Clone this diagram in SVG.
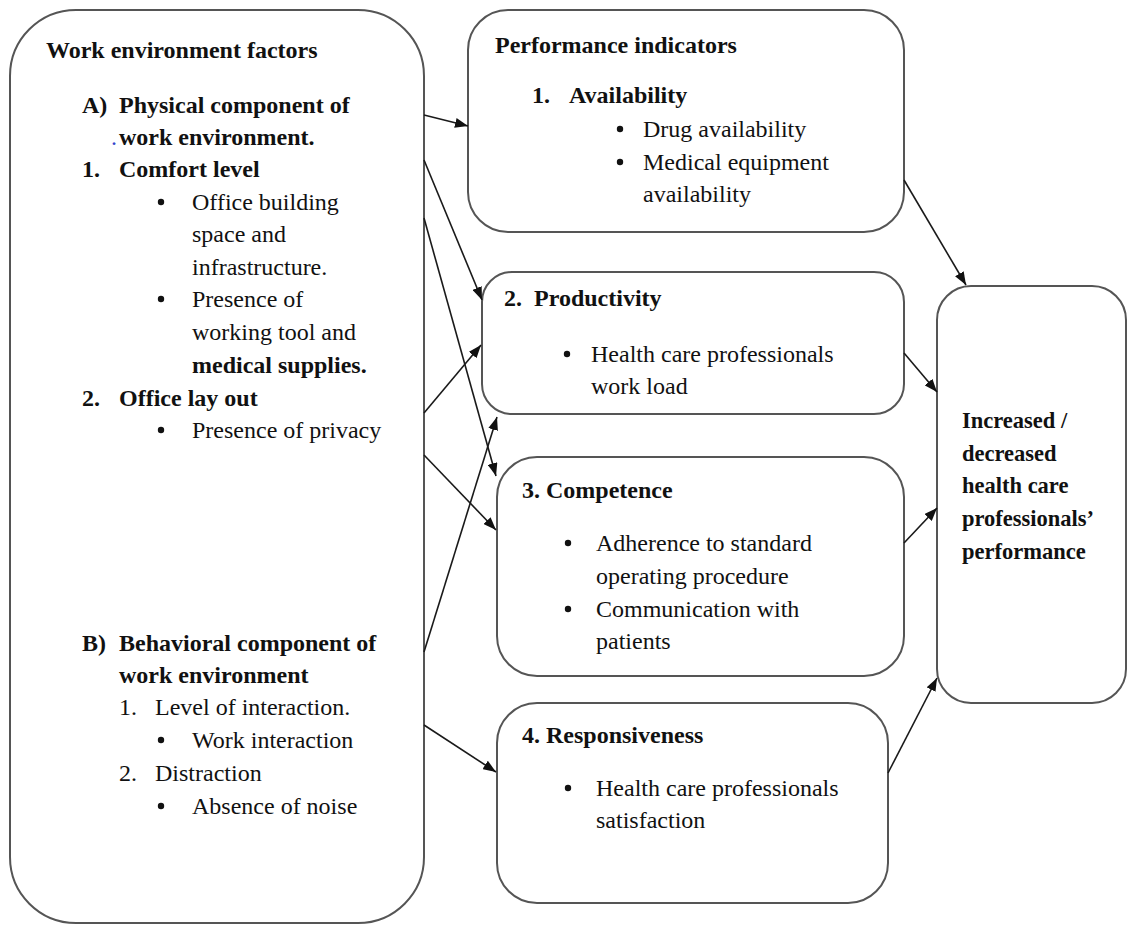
<svg xmlns="http://www.w3.org/2000/svg" width="1127" height="925" viewBox="0 0 1127 925">
<style>
  .box { fill: #ffffff; stroke: #555555; stroke-width: 2; }
  text { font-family: 'Liberation Serif', 'Times New Roman', serif; font-size: 24px; fill: #111111; }
  .b { font-weight: bold; }
  .r { font-size: 22.5px; font-weight: bold; }
  .dot { fill: #111111; }
  .conn line { stroke: #1a1a1a; stroke-width: 1.6; marker-end: url(#arrow); }
</style>
<defs>
  <marker id="arrow" markerWidth="13" markerHeight="10" refX="13" refY="5" orient="auto" markerUnits="userSpaceOnUse">
    <path d="M0,0 L13,5 L0,10 z" fill="#111111"/>
  </marker>
</defs>
<rect width="1127" height="925" fill="#ffffff"/>

<g id="work-environment-factors">
  <rect class="box" x="10" y="10" width="414" height="913" rx="66" ry="66"/>
  <text class="b" x="46" y="58">Work environment factors</text>
  <text class="b" x="82" y="113">A)</text>
  <text class="b" x="119" y="113">Physical component of</text>
  <text x="111" y="145" style="fill:#3344cc">.</text>
  <text class="b" x="119" y="145">work environment.</text>
  <text class="b" x="82" y="177">1.</text>
  <text class="b" x="119" y="177">Comfort level</text>
  <circle class="dot" cx="161" cy="202" r="3.2"/>
  <text x="192" y="210">Office building</text>
  <text x="192" y="242">space and</text>
  <text x="192" y="275">infrastructure.</text>
  <circle class="dot" cx="161" cy="299" r="3.2"/>
  <text x="192" y="307">Presence of</text>
  <text x="192" y="340">working tool and</text>
  <text class="b" x="192" y="373">medical supplies.</text>
  <text class="b" x="82" y="406">2.</text>
  <text class="b" x="119" y="406">Office lay out</text>
  <circle class="dot" cx="161" cy="430" r="3.2"/>
  <text x="192" y="438">Presence of privacy</text>
  <text class="b" x="82" y="651">B)</text>
  <text class="b" x="119" y="651">Behavioral component of</text>
  <text class="b" x="119" y="683">work environment</text>
  <text x="119" y="715">1.</text>
  <text x="155" y="715">Level of interaction.</text>
  <circle class="dot" cx="161" cy="740" r="3.2"/>
  <text x="192" y="748">Work interaction</text>
  <text x="119" y="781">2.</text>
  <text x="155" y="781">Distraction</text>
  <circle class="dot" cx="161" cy="806" r="3.2"/>
  <text x="192" y="814">Absence of noise</text>
</g>

<g id="performance-indicators">
  <rect class="box" x="468" y="10" width="436" height="222" rx="40" ry="40"/>
  <text class="b" x="495" y="53">Performance indicators</text>
  <text class="b" x="532" y="103">1.</text>
  <text class="b" x="569" y="103">Availability</text>
  <circle class="dot" cx="620" cy="129" r="3.2"/>
  <text x="643" y="137">Drug availability</text>
  <circle class="dot" cx="620" cy="162" r="3.2"/>
  <text x="643" y="170">Medical equipment</text>
  <text x="643" y="202">availability</text>
</g>

<g id="productivity">
  <rect class="box" x="482" y="272" width="422" height="142" rx="30" ry="30"/>
  <text class="b" x="504" y="306">2.</text>
  <text class="b" x="534" y="306">Productivity</text>
  <circle class="dot" cx="567" cy="354" r="3.2"/>
  <text x="591" y="362">Health care professionals</text>
  <text x="591" y="394">work load</text>
</g>

<g id="competence">
  <rect class="box" x="497" y="457" width="407" height="219" rx="40" ry="40"/>
  <text class="b" x="522" y="498">3. Competence</text>
  <circle class="dot" cx="568" cy="543" r="3.2"/>
  <text x="596" y="551">Adherence to standard</text>
  <text x="596" y="584">operating procedure</text>
  <circle class="dot" cx="568" cy="609" r="3.2"/>
  <text x="596" y="617">Communication with</text>
  <text x="596" y="649">patients</text>
</g>

<g id="responsiveness">
  <rect class="box" x="497" y="703" width="391" height="200" rx="40" ry="40"/>
  <text class="b" x="522" y="743">4. Responsiveness</text>
  <circle class="dot" cx="568" cy="788" r="3.2"/>
  <text x="596" y="796">Health care professionals</text>
  <text x="596" y="828">satisfaction</text>
</g>

<g id="performance-outcome">
  <rect class="box" x="937" y="286" width="189" height="417" rx="34" ry="34"/>
  <text class="r" x="962" y="428">Increased /</text>
  <text class="r" x="962" y="461">decreased</text>
  <text class="r" x="962" y="493">health care</text>
  <text class="r" x="962" y="526">professionals’</text>
  <text class="r" x="962" y="559">performance</text>
</g>

<g id="connectors" class="conn">
  <line x1="424" y1="115" x2="468" y2="126"/>
  <line x1="424" y1="160" x2="482" y2="300"/>
  <line x1="424" y1="218" x2="496" y2="476"/>
  <line x1="424" y1="413" x2="481" y2="345"/>
  <line x1="424" y1="455" x2="496" y2="530"/>
  <line x1="424" y1="652" x2="497" y2="417"/>
  <line x1="424" y1="725" x2="496" y2="772"/>
  <line x1="904" y1="180" x2="966" y2="285"/>
  <line x1="904" y1="353" x2="937" y2="392"/>
  <line x1="904" y1="543" x2="937" y2="508"/>
  <line x1="888" y1="773" x2="937" y2="678"/>
</g>
</svg>
